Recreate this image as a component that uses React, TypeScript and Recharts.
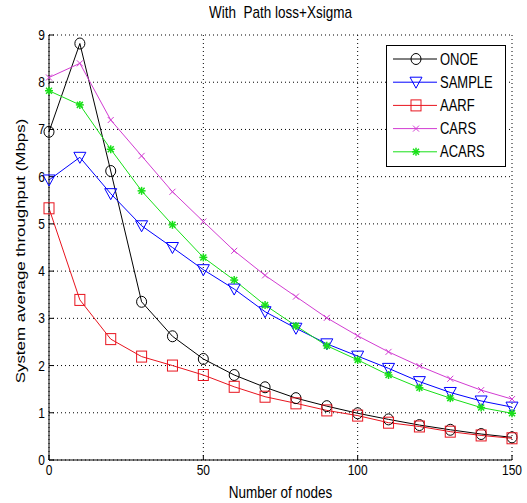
import React from 'react';
import { LineChart, Line, XAxis, YAxis, CartesianGrid } from 'recharts';

const nodes = [0, 10, 20, 30, 40, 50, 60, 70, 80, 90, 100, 110, 120, 130, 140, 150];
const onoe = [6.95, 8.82, 6.12, 3.35, 2.62, 2.14, 1.8, 1.54, 1.31, 1.14, 0.99, 0.86, 0.74, 0.64, 0.55, 0.48];
const sample = [5.93, 6.41, 5.64, 4.96, 4.5, 4.03, 3.62, 3.14, 2.79, 2.46, 2.2, 1.94, 1.66, 1.43, 1.25, 1.12];
const aarf = [5.33, 3.39, 2.56, 2.19, 2.0, 1.8, 1.55, 1.34, 1.2, 1.05, 0.94, 0.79, 0.71, 0.6, 0.52, 0.46];
const cars = [8.1, 8.4, 7.2, 6.44, 5.68, 5.05, 4.43, 3.91, 3.46, 3.01, 2.63, 2.29, 1.99, 1.72, 1.48, 1.29];
const acars = [7.82, 7.52, 6.58, 5.7, 4.98, 4.29, 3.81, 3.28, 2.84, 2.42, 2.12, 1.8, 1.53, 1.31, 1.11, 0.99];
const xTicks = [0, 50, 100, 150];
const yTicks = [0, 1, 2, 3, 4, 5, 6, 7, 8, 9];

const data = nodes.map((n, i) => ({
  n,
  ONOE: onoe[i],
  SAMPLE: sample[i],
  AARF: aarf[i],
  CARS: cars[i],
  ACARS: acars[i],
}));

type Shape = 'circle' | 'tri' | 'square' | 'x' | 'star';

const Marker = ({ shape, cx, cy, color }: { shape: Shape; cx: number; cy: number; color: string }) => {
  const sw = 1;
  if (shape === 'circle') return <ellipse cx={cx} cy={cy} rx={5} ry={5.5} fill="none" stroke={color} strokeWidth={sw} />;
  if (shape === 'tri')
    return (
      <polygon
        points={`${cx - 6},${cy - 5} ${cx + 6},${cy - 5} ${cx},${cy + 6}`}
        fill="none"
        stroke={color}
        strokeWidth={sw}
      />
    );
  if (shape === 'square')
    return <rect x={cx - 5} y={cy - 5.5} width={10} height={11} fill="none" stroke={color} strokeWidth={sw} />;
  if (shape === 'x')
    return (
      <g stroke={color} strokeWidth={sw}>
        <line x1={cx - 3} y1={cy - 3} x2={cx + 3} y2={cy + 3} />
        <line x1={cx - 3} y1={cy + 3} x2={cx + 3} y2={cy - 3} />
      </g>
    );
  return (
    <g stroke={color} strokeWidth={1.5}>
      <line x1={cx - 4} y1={cy} x2={cx + 4} y2={cy} />
      <line x1={cx} y1={cy - 4} x2={cx} y2={cy + 4} />
      <line x1={cx - 3} y1={cy - 3} x2={cx + 3} y2={cy + 3} />
      <line x1={cx - 3} y1={cy + 3} x2={cx + 3} y2={cy - 3} />
    </g>
  );
};

const series: { key: string; color: string; shape: Shape }[] = [
  { key: 'ONOE', color: '#000000', shape: 'circle' },
  { key: 'SAMPLE', color: '#0000ff', shape: 'tri' },
  { key: 'AARF', color: '#e8141e', shape: 'square' },
  { key: 'CARS', color: '#d23cd2', shape: 'x' },
  { key: 'ACARS', color: '#18e018', shape: 'star' },
];

const font = '"Liberation Sans", Arial, sans-serif';

const LegendBox = () => (
  <svg width={120} height={122} style={{ display: 'block' }}>
    <rect x={0.5} y={0.5} width={119} height={121} fill="#fff" stroke="#000" strokeWidth={1} />
    {series.map((s, i) => {
      const y = 14 + i * 23.2;
      return (
        <g key={s.key}>
          <line x1={7} y1={y} x2={51} y2={y} stroke={s.color} strokeWidth={1} />
          <Marker shape={s.shape} cx={30} cy={y} color={s.color} />
          <text
            x={54}
            y={0}
            fontSize={13}
            fontFamily={font}
            fill="#000"
            transform={`translate(0, ${y + 5.5}) scale(1, 1.25)`}
          >
            {s.key}
          </text>
        </g>
      );
    })}
  </svg>
);

const XTick = (p: any) => (
  <text
    x={0}
    y={0}
    textAnchor="middle"
    fontSize={12}
    fontFamily={font}
    fill="#000"
    transform={`translate(${p.x}, ${p.y + 18}) scale(1, 1.2)`}
  >
    {p.payload.value}
  </text>
);

const YTick = (p: any) => (
  <text
    x={0}
    y={0}
    textAnchor="end"
    fontSize={12}
    fontFamily={font}
    fill="#000"
    transform={`translate(${p.x - 7}, ${p.y + 5}) scale(1, 1.2)`}
  >
    {p.payload.value}
  </text>
);

export default function App() {
  return (
    <div style={{ position: 'absolute', left: 0, top: 0, width: 527, height: 503, background: '#fff', fontFamily: font }}>
      <LineChart
        width={527}
        height={503}
        data={data}
        margin={{ top: 35, right: 15, bottom: 18, left: 19 }}
        style={{ position: 'absolute', left: 0, top: 0 }}
      >
        <CartesianGrid stroke="#000" strokeDasharray="1 3" horizontal vertical />
        <XAxis
          dataKey="n"
          type="number"
          domain={[0, 150]}
          ticks={xTicks}
          height={25}
          stroke="#000"
          tickSize={-5}
          tick={<XTick />}
        />
        <XAxis
          xAxisId="top"
          orientation="top"
          dataKey="n"
          type="number"
          domain={[0, 150]}
          ticks={xTicks}
          height={0}
          stroke="#000"
          tickSize={-5}
          tick={false}
        />
        <YAxis
          type="number"
          domain={[0, 9]}
          ticks={yTicks}
          width={30}
          stroke="#000"
          tickSize={-5}
          tick={<YTick />}
        />
        <YAxis
          yAxisId="right"
          orientation="right"
          type="number"
          domain={[0, 9]}
          ticks={yTicks}
          width={0}
          stroke="#000"
          tickSize={-5}
          tick={false}
        />
        {series.map((s) => (
          <Line
            key={s.key}
            dataKey={s.key}
            stroke={s.color}
            strokeWidth={1}
            isAnimationActive={false}
            dot={(p: any) => <Marker key={`${s.key}-${p.index}`} shape={s.shape} cx={p.cx} cy={p.cy} color={s.color} />}
            activeDot={false}
          />
        ))}
      </LineChart>
      <div
        style={{
          position: 'absolute',
          left: 49,
          width: 463,
          top: 4,
          textAlign: 'center',
          fontSize: 13.5,
          transform: 'scale(1, 1.2)',
          transformOrigin: 'center top',
        }}
      >
        With&nbsp; Path loss+Xsigma
      </div>
      <div
        style={{
          position: 'absolute',
          left: 20,
          top: 251,
          fontSize: 13.5,
          whiteSpace: 'nowrap',
          transform: 'translate(-50%, -50%) rotate(-90deg) scale(1.25, 1)',
        }}
      >
        System average throughput (Mbps)
      </div>
      <div
        style={{
          position: 'absolute',
          left: 49,
          width: 463,
          top: 484,
          textAlign: 'center',
          fontSize: 13.5,
          transform: 'scale(1, 1.2)',
          transformOrigin: 'center top',
        }}
      >
        Number of nodes
      </div>
      <div style={{ position: 'absolute', left: 386, top: 45 }}>
        <LegendBox />
      </div>
    </div>
  );
}
